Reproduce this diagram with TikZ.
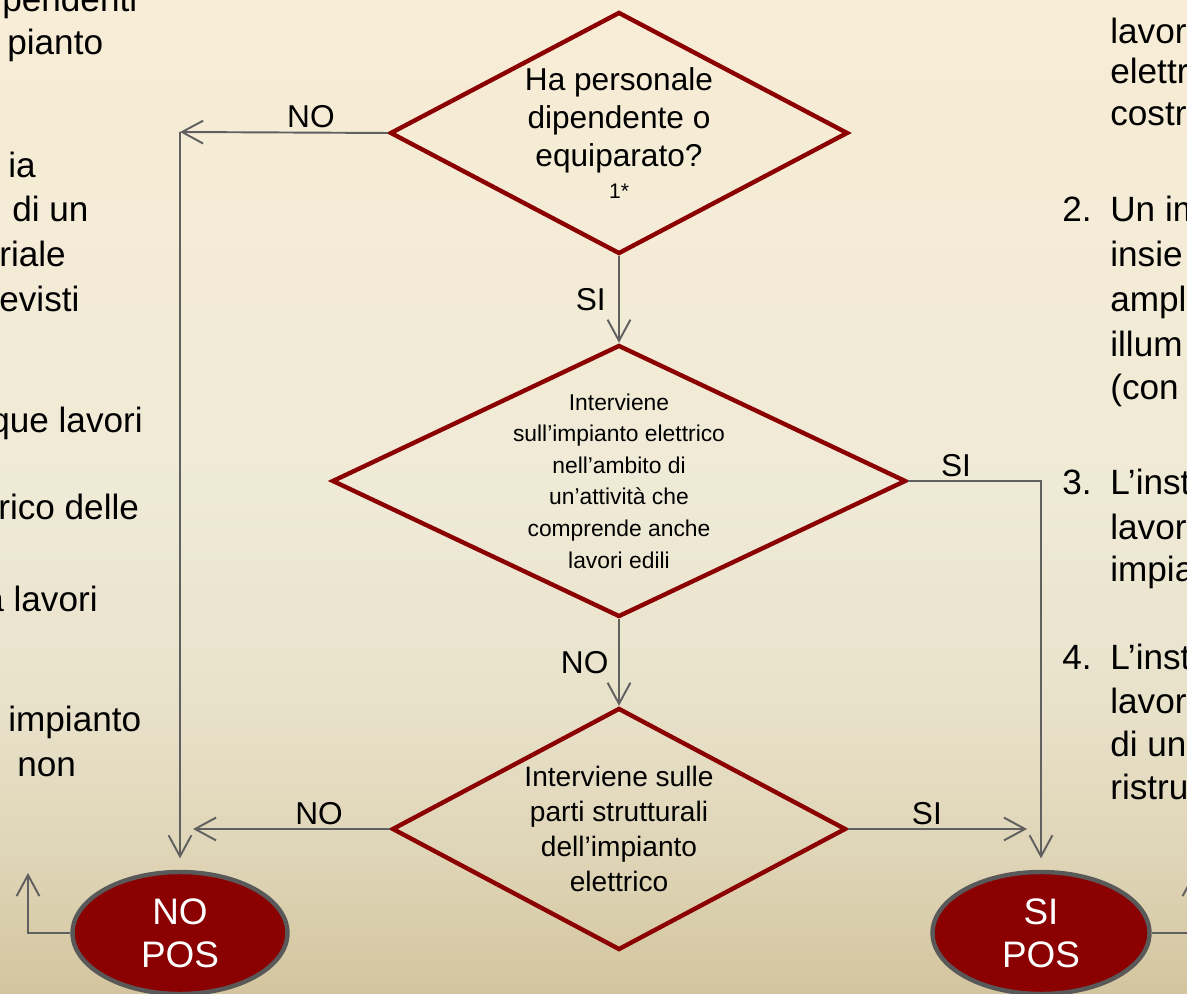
\documentclass[tikz,border=0pt]{standalone}
\usepackage{fontspec}
\setmainfont{Liberation Sans}
\usetikzlibrary{shapes.geometric,arrows.meta}

\definecolor{posred}{RGB}{139,0,0}
\definecolor{posgray}{RGB}{89,89,89}
\definecolor{linegray}{RGB}{96,96,96}
\definecolor{bgtop}{RGB}{248,237,214}
\definecolor{bgmid}{RGB}{239,234,214}
\definecolor{bglow}{RGB}{233,226,203}
\definecolor{bgdeep}{RGB}{223,213,183}
\definecolor{bgbot}{RGB}{211,197,158}

\pgfdeclareverticalshading{slidebg}{100bp}{color(0bp)=(bgbot); color(25bp)=(bgbot); color(32bp)=(bgdeep); color(40bp)=(bglow); color(50bp)=(bgmid); color(75bp)=(bgtop); color(100bp)=(bgtop)}

\tikzset{
	decision/.style={diamond, draw=posred, line width=2.5pt, inner sep=0pt},
	dtext/.style={align=center, text=black, inner sep=0pt},
	terminal/.style={ellipse, draw=posgray, fill=posred, line width=2.5pt, inner sep=0pt, minimum height=2.44cm, text=white, align=center, font=\fontsize{21}{24.4}\selectfont},
	conn/.style={draw=linegray, line width=1.1pt, -{Straight Barb[length=12pt,width=13pt]}},
	lbl/.style={inner sep=1pt, text=black, font=\fontsize{18}{21.6}\selectfont},
	sidetxt/.style={anchor=base west, inner sep=0pt, text=black, font=\fontsize{20}{24}\selectfont}
}

\begin{document}
\begin{tikzpicture}[x=0.02cm, y=0.02cm]
		
		%Background
		\useasboundingbox (0,0) rectangle (1187,994);
		\clip (0,0) rectangle (1187,994);
		\shade[shading=slidebg] (0,0) rectangle (1187,994);
		
		%Side text, cut by the frame
		\foreach \txt/\px/\py [count=\i] in {{pendenti}/2/982, {pianto}/7/939, {ia}/8/816, {di un}/12/772, {riale}/-1/727, {evisti}/-1/682, {que lavori}/-10/561, {rico delle}/-2/474, {a lavori}/-16/382, {impianto}/8/262, {non}/17/217}
			\node[sidetxt] (left\i) at (\px,\py) {\txt};
		\foreach \txt/\py [count=\i] in {{2.}/772, {3.}/499, {4.}/324}
			\node[sidetxt] (num\i) at (1062,\py) {\txt};
		\foreach \txt/\py [count=\i] in {{lavor}/950, {elettr}/910, {costr}/868, {Un im}/772, {insie}/727, {ampl}/682, {illum}/637, {(con}/594, {L’inst}/499, {lavor}/454, {impia}/412, {L’inst}/324, {lavor}/280, {di un}/237, {ristru}/194}
			\node[sidetxt] (right\i) at (1110,\py) {\txt};
		
		%Decisions
		\node[decision, minimum width=9.16cm, minimum height=4.84cm] (d1) at (619,861) {};
		\node[dtext, font=\fontsize{18}{21.6}\selectfont] (d1t) at (d1) {Ha personale\\dipendente o\\equiparato?\\[-3pt]{\fontsize{12}{14}\selectfont 1*}};
		\node[decision, minimum width=11.48cm, minimum height=5.44cm] (d2) at (619,513) {};
		\node[dtext, font=\fontsize{13}{18}\selectfont] (d2t) at (d2) {Interviene\\sull’impianto elettrico\\nell’ambito di\\un’attività che\\comprende anche\\lavori edili};
		\node[decision, minimum width=9.08cm, minimum height=4.84cm] (d3) at (619,165) {};
		\node[dtext, font=\fontsize{16}{19.9}\selectfont] (d3t) at (d3) {Interviene sulle\\parti strutturali\\dell’impianto\\elettrico};
		
		%Outcomes
		\node[terminal, minimum width=4.3cm] (nopos) at (180,61) {NO\\POS};
		\node[terminal, minimum width=4.34cm] (sipos) at (1041,61) {SI\\POS};
		
		%Connectors
		\coordinate (nocorner) at (180,862);
		\coordinate (noend) at (193,165);
		\coordinate (siend) at (1027,165);
		\coordinate (noup) at (28,121);
		\coordinate (siup) at (1194,121);
		\draw[conn] (d1.west) -- node[lbl, above=1pt, pos=0.37] (no1) {NO} (nocorner);
		\draw[conn, shorten >=6.5pt] (nocorner) -- (nopos);
		\draw[conn] (d1) -- node[lbl, left=6pt] (si1) {SI} (d2);
		\draw[conn, shorten >=6.5pt] (d2.east) -| node[lbl, above=1pt, pos=0.18] (si2) {SI} (sipos);
		\draw[conn] (d2) -- node[lbl, left=4.5pt] (no2) {NO} (d3);
		\draw[conn] (d3.west) -- node[lbl, above=1pt, pos=0.36] (no3) {NO} (noend);
		\draw[conn] (d3.east) -- node[lbl, above=1pt, pos=0.44] (si3) {SI} (siend);
		\draw[conn] (nopos.west) -| (noup);
		\draw[conn] (sipos.east) -| (siup);
		
\end{tikzpicture}
\end{document}
